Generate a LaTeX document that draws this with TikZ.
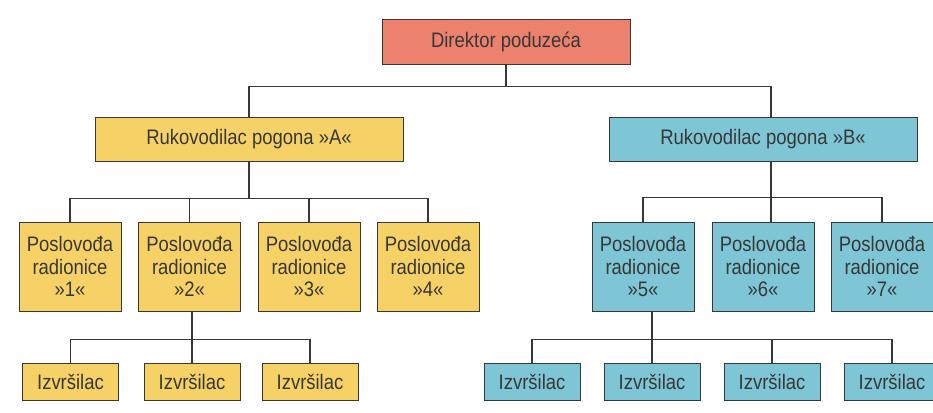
\documentclass[tikz,border=0pt]{standalone}
\usepackage{fontspec}
\setmainfont{Liberation Sans}[FakeStretch=0.88]
\usepackage{xcolor}
\definecolor{mysalmon}{RGB}{236,130,110}
\definecolor{myyellow}{RGB}{246,210,102}
\definecolor{mylightblue}{RGB}{126,198,214}
\definecolor{mydarkgray}{RGB}{55,55,55}
\usepackage{tikz}
\usetikzlibrary{calc}
\newcommand{\widthdirektor}{248pt}
\newcommand{\widthpogon}{308pt}
\newcommand{\widthposlovoda}{102pt}
\newcommand{\widthizvrsilac}{96pt}
\tikzset{
    common/.style={draw=mydarkgray, line width=0.9pt, rectangle, text=mydarkgray,
        font=\fontsize{21}{22.5}\selectfont, inner sep=0pt},
    direktor/.style={common, fill=mysalmon, minimum width=\widthdirektor, minimum height=45pt},
    pogon/.style={common, minimum width=\widthpogon, minimum height=44pt},
    poslovoda/.style={common, align=center, minimum width=\widthposlovoda, minimum height=89pt},
    izvrsilac/.style={common, minimum width=\widthizvrsilac, minimum height=37pt},
    link/.style={draw=mydarkgray, line width=1.1pt}
}
\begin{document}
\begin{tikzpicture}[x=1pt, y=-1pt]
    \useasboundingbox (0,0) rectangle (933,412);

    \path
        (506,41.5) node[direktor] (dir) {Direktor poduzeća};

    \path
        (249,139) node[pogon, fill=myyellow] (pogA) {Rukovodilac pogona »A«}
        ++(0:514) node[pogon, fill=mylightblue] (pogB) {Rukovodilac pogona »B«};

    \path
        (70,266.5) node[poslovoda, fill=myyellow] (pos1) {Poslovođa\\radionice\\»1«}
        ++(0:119.5) node[poslovoda, fill=myyellow] (pos2) {Poslovođa\\radionice\\»2«}
        ++(0:119.5) node[poslovoda, fill=myyellow] (pos3) {Poslovođa\\radionice\\»3«}
        ++(0:119) node[poslovoda, fill=myyellow] (pos4) {Poslovođa\\radionice\\»4«}
        ++(0:215) node[poslovoda, fill=mylightblue] (pos5) {Poslovođa\\radionice\\»5«}
        ++(0:120) node[poslovoda, fill=mylightblue] (pos6) {Poslovođa\\radionice\\»6«}
        ++(0:119) node[poslovoda, fill=mylightblue] (pos7) {Poslovođa\\radionice\\»7«};

    \path
        (70.5,381.5) node[izvrsilac, fill=myyellow] (izv1) {Izvršilac}
        ++(0:121.5) node[izvrsilac, fill=myyellow] (izv2) {Izvršilac}
        ++(0:118) node[izvrsilac, fill=myyellow] (izv3) {Izvršilac}
        ++(0:222) node[izvrsilac, fill=mylightblue] (izv4) {Izvršilac}
        ++(0:120) node[izvrsilac, fill=mylightblue] (izv5) {Izvršilac}
        ++(0:120) node[izvrsilac, fill=mylightblue] (izv6) {Izvršilac}
        ++(0:120) node[izvrsilac, fill=mylightblue] (izv7) {Izvršilac};

    % director -> pogoni
    \draw[link] (dir.south) -- ++(0,22) coordinate (dirbus);
    \draw[link] (pogA.north) |- (dirbus) -| ([xshift=8pt]pogB.north);

    % pogon A -> poslovode
    \draw[link] (pogA.south) -- ++(0,37) coordinate (busA);
    \draw[link] (pos1.north) |- (busA) -| (pos4.north);
    \draw[link] (pos2.north) -- (pos2.north |- busA);
    \draw[link] (pos3.north) -- (pos3.north |- busA);

    % pogon B -> poslovode
    \draw[link] ([xshift=8pt]pogB.south) -- ([xshift=8pt]pos6.north);
    \draw[link] (pos5.north) |- ($(pos6.north)+(8,-24)$) -| (pos7.north);

    % izvrsioci
    \draw[link] (izv2.north) -- (izv2.north |- pos2.south);
    \draw[link] (izv1.north) -- ++(0,-23) -| (izv3.north);
    \draw[link] (izv5.north) -- (izv5.north |- pos5.south);
    \draw[link] (izv4.north) -- ++(0,-23) -| (izv7.north);
    \draw[link] (izv6.north) -- ++(0,-23);
\end{tikzpicture}
\end{document}
